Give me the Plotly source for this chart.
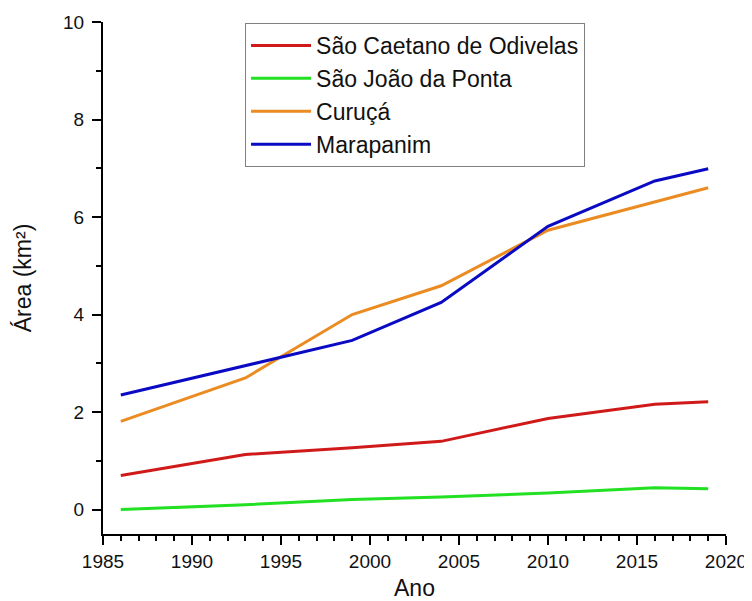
import plotly.graph_objects as go

years = [1986, 1993, 1999, 2004, 2010, 2016, 2019]
sao_caetano = [0.70, 1.13, 1.27, 1.40, 1.87, 2.16, 2.21]
sao_joao = [0.00, 0.10, 0.21, 0.26, 0.34, 0.45, 0.43]
curuca = [1.81, 2.70, 4.00, 4.59, 5.73, 6.30, 6.60]
marapanim = [2.35, 2.95, 3.47, 4.25, 5.81, 6.74, 6.99]

series = [
    ("São Caetano de Odivelas", sao_caetano, "#d01a1a"),
    ("São João da Ponta", sao_joao, "#22e022"),
    ("Curuçá", curuca, "#ea8c22"),
    ("Marapanim", marapanim, "#0a0ac4"),
]

fig = go.Figure()
for name, vals, color in series:
    fig.add_trace(go.Scatter(x=years, y=vals, mode="lines", name=name,
                             line=dict(color=color, width=3)))

font = "Liberation Sans, Arial, sans-serif"
# page body has an 8px margin, so the figure is sized to fill the rest of the window
fig.update_layout(
    width=744, height=593,
    margin=dict(l=95, r=26, t=14, b=67),
    paper_bgcolor="white", plot_bgcolor="white",
    font=dict(family=font, color="#111111"),
    showlegend=True,
    legend=dict(x=0.228, y=0.998, xanchor="left", yanchor="top",
                bordercolor="#808080", borderwidth=1, bgcolor="white",
                font=dict(size=23, family=font), itemwidth=60,
                tracegroupgap=0),
)
fig.update_xaxes(
    range=[1985, 2020], tickvals=[1985, 1990, 1995, 2000, 2005, 2010, 2015, 2020],
    automargin=False,
    showgrid=False, zeroline=False, showline=True, linecolor="black", linewidth=2,
    ticks="outside", ticklen=9, tickwidth=2, tickcolor="black",
    tickfont=dict(size=19),
    minor=dict(dtick=1, tick0=1985, ticks="outside", ticklen=5, tickwidth=2, tickcolor="black"),
    title=dict(text="Ano", font=dict(size=23), standoff=21),
)
fig.update_yaxes(
    range=[-0.5, 10], tickvals=[0, 2, 4, 6, 8, 10],
    automargin=False,
    showgrid=False, zeroline=False, showline=True, linecolor="black", linewidth=2,
    ticks="outside", ticklen=9, tickwidth=2, tickcolor="black",
    tickfont=dict(size=19), ticklabelstandoff=4,
    minor=dict(tickvals=[1, 3, 5, 7, 9], ticks="outside", ticklen=5, tickwidth=2, tickcolor="black"),
    title=dict(text="Área (km²)", font=dict(size=23), standoff=25),
)
fig.write_html("out.html")
